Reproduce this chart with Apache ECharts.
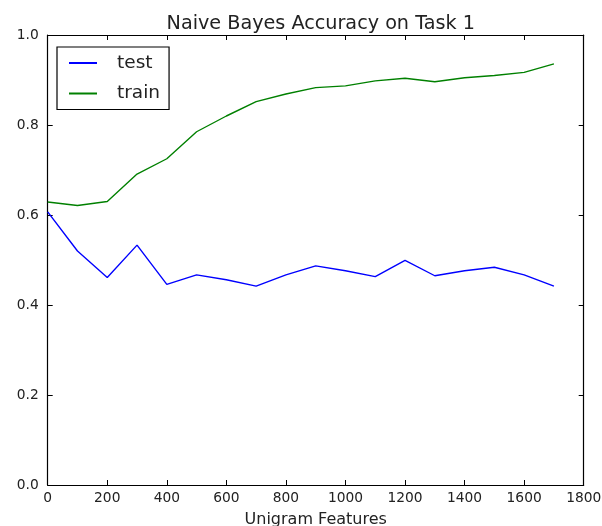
<!DOCTYPE html>
<html><head><meta charset="utf-8">
<script src="https://cdn.jsdelivr.net/npm/echarts@6/dist/echarts.min.js"></script>
<style>html,body{margin:0;padding:0;background:#fff}#c{width:602px;height:526px}</style>
</head><body><div id="c"></div>
<script>
const features = [0,100,200,300,400,500,600,700,800,900,1000,1100,1200,1300,1400,1500,1600,1700];
const testAcc  = [0.607,0.520,0.461,0.533,0.446,0.467,0.456,0.442,0.467,0.487,0.476,0.463,0.499,0.465,0.476,0.484,0.467,0.442];
const trainAcc = [0.629,0.621,0.630,0.691,0.725,0.785,0.820,0.852,0.869,0.883,0.887,0.898,0.904,0.896,0.905,0.910,0.917,0.936];
const xTicks = [0,200,400,600,800,1000,1200,1400,1600,1800];
const yTicks = [0.0,0.2,0.4,0.6,0.8,1.0];

const font = 'DejaVu Sans';
const chart = echarts.init(document.getElementById('c'), null, {renderer:'canvas'});
const axisLine = {show:true, onZero:false, lineStyle:{color:'#000', width:1.2}};
const tickIn = {show:true, inside:true, length:5, lineStyle:{color:'#000', width:1}};
chart.setOption({
  animation:false,
  backgroundColor:'#fff',
  title:{text:'Naive Bayes Accuracy on Task 1', left:315.7, top:10, textAlign:'center',
    textStyle:{fontFamily:font, fontSize:19.2, fontWeight:'normal', color:'#222'}},
  legend:{left:57, top:47, orient:'vertical', itemWidth:28, itemHeight:2, itemGap:11.5,
    icon:'rect', borderColor:'#000', borderWidth:1.2, backgroundColor:'#fff',
    padding:[6.5,9,6.5,12], borderRadius:0,
    textStyle:{fontFamily:font, fontSize:18.5, color:'#222', padding:[0,0,0,15]},
    data:['test','train']},
  grid:{left:47.7, right:18.3, top:35, bottom:41, containLabel:false, outerBoundsMode:'none'},
  xAxis:[{type:'value', min:0, max:1800, interval:200, position:'bottom',
      axisLine:axisLine, axisTick:tickIn, splitLine:{show:false},
      axisLabel:{fontFamily:font, fontSize:13.8, color:'#222', margin:6,
        formatter:v=>xTicks.includes(v)?String(v):''},
      name:'Unigram Features', nameLocation:'middle', nameGap:26.5,
      nameTextStyle:{fontFamily:font, fontSize:16, color:'#222'}},
    {type:'value', min:0, max:1800, interval:200, position:'top',
      axisLine:axisLine, axisTick:tickIn, axisLabel:{show:false}, splitLine:{show:false}}],
  yAxis:[{type:'value', min:0, max:1, interval:0.2, position:'left',
      axisLine:axisLine, axisTick:tickIn, splitLine:{show:false},
      axisLabel:{fontFamily:font, fontSize:13.8, color:'#222', margin:9,
        formatter:v=>{const t=yTicks.find(k=>Math.abs(k-v)<1e-9);return t===undefined?'':t.toFixed(1);}}},
    {type:'value', min:0, max:1, interval:0.2, position:'right',
      axisLine:axisLine, axisTick:tickIn, axisLabel:{show:false}, splitLine:{show:false}}],
  series:[
    {name:'test', type:'line', data:features.map((f,i)=>[f,testAcc[i]]), symbol:'none',
      lineStyle:{color:'#0000ff', width:1.4}, itemStyle:{color:'#0000ff'}},
    {name:'train', type:'line', data:features.map((f,i)=>[f,trainAcc[i]]), symbol:'none',
      lineStyle:{color:'#008000', width:1.4}, itemStyle:{color:'#008000'}}
  ]
});
</script></body></html>
